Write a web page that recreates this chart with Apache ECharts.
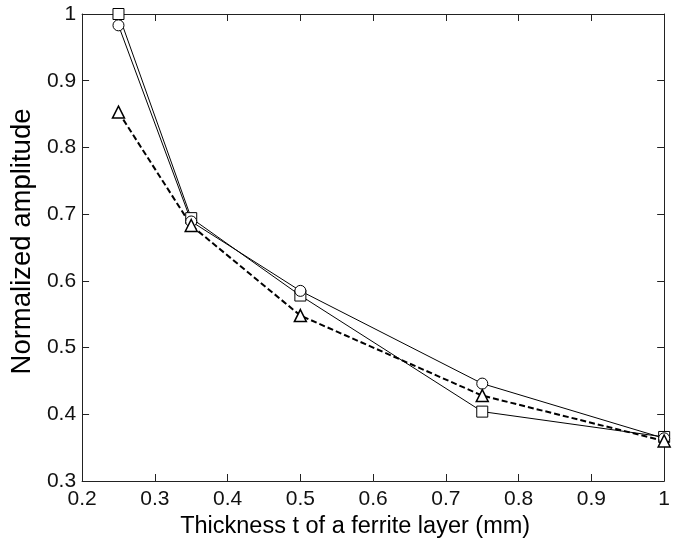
<!DOCTYPE html>
<html><head><meta charset="utf-8">
<script src="https://cdn.jsdelivr.net/npm/echarts@6/dist/echarts.min.js"></script>
<style>html,body{margin:0;padding:0;background:#fff}#c{width:673px;height:545px}</style>
</head><body><div id="c"></div>
<script>
const thickness = [0.25, 0.35, 0.5, 0.75, 1.0];
const squareVals = [1.0, 0.694, 0.578, 0.404, 0.366];
const circleVals = [0.983, 0.689, 0.585, 0.446, 0.364];
const triangleVals = [0.853, 0.683, 0.548, 0.428, 0.360];
const xTicks = [0.2, 0.3, 0.4, 0.5, 0.6, 0.7, 0.8, 0.9, 1];
const yTicks = [0.3, 0.4, 0.5, 0.6, 0.7, 0.8, 0.9, 1];

const font = 'Liberation Sans, Arial, sans-serif';
const pair = (xs, ys) => xs.map((x, i) => [x, ys[i]]);
const fmt = v => (Math.abs(v - 1) < 1e-9 ? '1' : v.toFixed(1));
const axisCommon = {
  axisLine: {show: true, onZero: false, lineStyle: {color: '#222', width: 1}},
  axisTick: {show: true, inside: true, length: 7, lineStyle: {color: '#222'}},
  splitLine: {show: false}
};
const chart = echarts.init(document.getElementById('c'), null, {renderer: 'canvas'});
chart.setOption({
  backgroundColor: '#fff',
  animation: false,
  grid: {left: 77, right: 5, top: 14, bottom: 64, containLabel: false},
  xAxis: [
    Object.assign({type: 'value', min: xTicks[0], max: xTicks[xTicks.length - 1], interval: 0.1, position: 'bottom',
      name: 'Thickness t of a ferrite layer (mm)', nameLocation: 'middle', nameGap: 32,
      nameTextStyle: {fontFamily: font, fontSize: 23.5, color: '#000', padding: [0, 36, 0, 0]},
      axisLabel: {fontFamily: font, fontSize: 21, color: '#111', margin: 8, formatter: fmt}}, axisCommon),
    Object.assign({type: 'value', min: xTicks[0], max: xTicks[xTicks.length - 1], interval: 0.1, position: 'top',
      axisLabel: {show: false}}, axisCommon)
  ],
  yAxis: [
    Object.assign({type: 'value', min: yTicks[0], max: yTicks[yTicks.length - 1], interval: 0.1, position: 'left',
      name: 'Normalized amplitude', nameLocation: 'middle', nameGap: 38,
      nameTextStyle: {fontFamily: font, fontSize: 27.5, color: '#000', padding: [0, 0, 0, 12]},
      axisLabel: {fontFamily: font, fontSize: 21, color: '#111', margin: 6, formatter: fmt}}, axisCommon),
    Object.assign({type: 'value', min: yTicks[0], max: yTicks[yTicks.length - 1], interval: 0.1, position: 'right',
      axisLabel: {show: false}}, axisCommon)
  ],
  series: [
    {type: 'line', data: pair(thickness, squareVals), symbol: 'rect', symbolSize: 11,
      lineStyle: {color: '#000', width: 1}, itemStyle: {color: '#fff', borderColor: '#000', borderWidth: 1}},
    {type: 'line', data: pair(thickness, circleVals), symbol: 'circle', symbolSize: 11,
      lineStyle: {color: '#000', width: 1}, itemStyle: {color: '#fff', borderColor: '#000', borderWidth: 1}},
    {type: 'line', data: pair(thickness, triangleVals), symbol: 'triangle', symbolSize: 12,
      lineStyle: {color: '#000', width: 2, type: [6, 3]}, itemStyle: {color: '#fff', borderColor: '#000', borderWidth: 1.5}}
  ]
});
</script></body></html>
